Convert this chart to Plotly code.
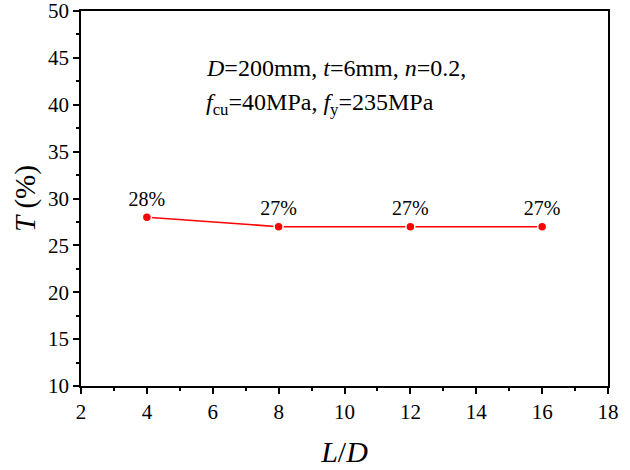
import plotly.graph_objects as go

ld = [4, 8, 12, 16]
t_pct = [28, 27, 27, 27]
labels = ["28%", "27%", "27%", "27%"]

FONT = "Liberation Serif, Times New Roman, serif"

fig = go.Figure()
fig.add_trace(go.Scatter(
    x=ld, y=t_pct, mode="lines+markers+text",
    text=labels, textposition="top center",
    textfont=dict(family=FONT, size=20, color="black"),
    line=dict(color="#ff0000", width=1.5),
    marker=dict(color="#ff0000", size=9, line=dict(color="white", width=1.5)),
    showlegend=False, cliponaxis=False,
))

axis_common = dict(
    showgrid=False, zeroline=False, showline=True, linecolor="black", linewidth=1.5,
    mirror=True, ticks="outside", ticklen=6, tickwidth=1.5, tickcolor="black",
    tickfont=dict(family=FONT, size=21, color="black"), automargin=False,
    ticklabeloverflow="allow",
)

fig.update_xaxes(range=[2, 18], dtick=2, tick0=2,
                 minor=dict(ticks="outside", ticklen=3, tickwidth=1.5, tickcolor="black", dtick=1),
                 title=dict(text="<i>L</i>/<i>D</i>", font=dict(family=FONT, size=30, color="black"), standoff=18),
                 **axis_common)
fig.update_yaxes(range=[10, 50], dtick=5, tick0=10,
                 minor=dict(ticks="outside", ticklen=3, tickwidth=1.5, tickcolor="black", dtick=2.5),
                 title=dict(text="<i>T</i> (%)", font=dict(family=FONT, size=29, color="black"), standoff=4),
                 **axis_common)

fig.add_annotation(
    xref="paper", yref="paper", x=0.233, y=0.848, xanchor="left", yanchor="middle",
    align="left", showarrow=False,
    text="<i>D</i>=200mm, <i>t</i>=6mm, <i>n</i>=0.2,",
    font=dict(family=FONT, size=24, color="black"),
)
fig.add_annotation(
    xref="paper", yref="paper", x=0.233, y=0.752, xanchor="left", yanchor="middle",
    align="left", showarrow=False,
    text="<i>f</i><sub>cu</sub>=40MPa, <i>f</i><sub>y</sub>=235MPa",
    font=dict(family=FONT, size=24, color="black"),
)

fig.update_layout(
    width=630, height=470,
    margin=dict(l=81, r=22, t=11, b=84),
    paper_bgcolor="white", plot_bgcolor="white",
)

fig.write_html("out.html")
